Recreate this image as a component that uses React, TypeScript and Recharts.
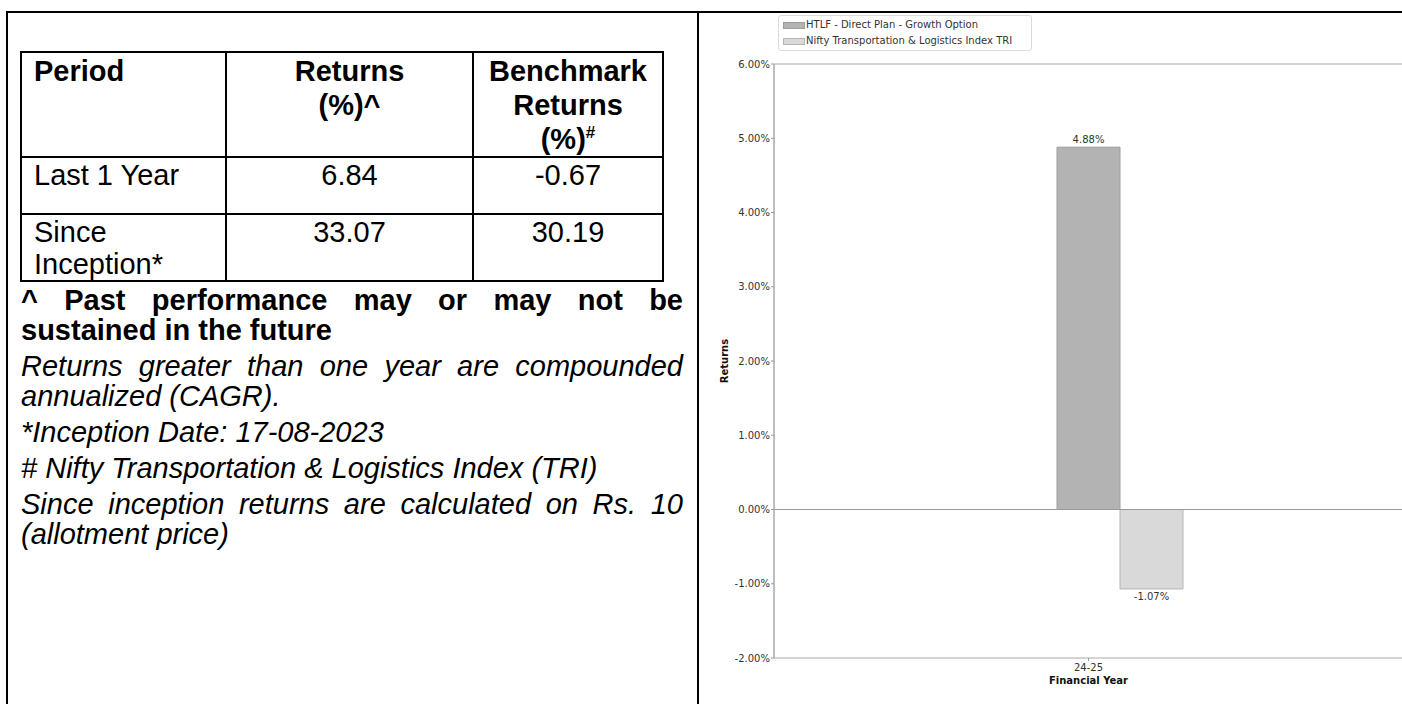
import { BarChart, Bar, XAxis, YAxis, Legend, ReferenceLine, LabelList } from 'recharts'

const years = ['24-25']
const fundReturns = [4.88]
const benchmarkReturns = [-1.07]
const seriesNames = ['HTLF - Direct Plan - Growth Option', 'Nifty Transportation & Logistics Index TRI']
const seriesColors = ['#b3b3b3', '#d9d9d9']
const seriesEdges = ['#9c9c9c', '#b4b4b4']
const yTicks = [-2, -1, 0, 1, 2, 3, 4, 5, 6]

const periods = ['Last 1 Year', 'Since Inception*']
const schemeReturns = ['6.84', '33.07']
const benchReturns = ['-0.67', '30.19']

const BAR = 63
const chartFont = 'DejaVu Sans, sans-serif'
const docFont = '"Liberation Sans", Arial, sans-serif'

const data = years.map((y, i) => ({ year: y, fund: fundReturns[i], bench: benchmarkReturns[i] }))
const pct = (v: any) => `${Number(v).toFixed(2)}%`

function YearTick({ x, y, payload }: any) {
  // matplotlib puts the tick under the first bar of the group
  const cx = x - BAR / 2
  return (
    <g>
      <line x1={cx} x2={cx} y1={y} y2={y + 3} stroke="#999" />
      <text x={cx} y={y + 13} textAnchor="middle" fontSize={10} fill="#333" fontFamily={chartFont}>
        {payload.value}
      </text>
    </g>
  )
}

function LegendBox() {
  return (
    <div style={{
      border: '1px solid #dadada', borderRadius: 3, padding: '1px 4px', background: '#fff',
      fontFamily: chartFont, fontSize: 10, color: '#333', lineHeight: '16px', boxSizing: 'border-box',
    }}>
      {seriesNames.map((n, i) => (
        <div key={n} style={{ display: 'flex', alignItems: 'center', whiteSpace: 'nowrap' }}>
          <span style={{ display: 'inline-block', width: 22, height: 7, background: seriesColors[i], boxShadow: `inset 0 0 0 1px ${seriesEdges[i]}`, marginRight: 1 }} />
          {n}
        </div>
      ))}
    </div>
  )
}

function ReturnsTable() {
  const border = '2px solid #000'
  const cell = { border, verticalAlign: 'top' as const, padding: '1px 12px 0', lineHeight: '34px' }
  return (
    <table style={{ position: 'absolute', left: 20, top: 51, width: 642, borderCollapse: 'collapse', tableLayout: 'fixed', fontFamily: docFont, fontSize: 29 }}>
      <colgroup>
        <col style={{ width: 205 }} />
        <col style={{ width: 247 }} />
        <col style={{ width: 190 }} />
      </colgroup>
      <tbody>
        <tr style={{ height: 103, fontWeight: 'bold' }}>
          <td style={cell}>Period</td>
          <td style={{ ...cell, textAlign: 'center' }}>Returns<br />(%)^</td>
          <td style={{ ...cell, textAlign: 'center', padding: '1px 4px 0' }}>Benchmark<br />Returns<br />(%)<sup style={{ fontSize: 17, lineHeight: 0 }}>#</sup></td>
        </tr>
        {periods.map((p, i) => (
          <tr key={p} style={{ height: i === 0 ? 57 : 67 }}>
            <td style={{ ...cell, lineHeight: '32px' }}>{p}</td>
            <td style={{ ...cell, lineHeight: '32px', textAlign: 'center' }}>{schemeReturns[i]}</td>
            <td style={{ ...cell, lineHeight: '32px', textAlign: 'center' }}>{benchReturns[i]}</td>
          </tr>
        ))}
      </tbody>
    </table>
  )
}

function Notes() {
  const p = { margin: '0 0 6px', textAlign: 'justify' as const }
  return (
    <div style={{ position: 'absolute', left: 21, top: 285, width: 662, fontFamily: docFont, fontSize: 29, lineHeight: '30px', color: '#000' }}>
      <p style={{ ...p, fontWeight: 'bold' }}>^ Past performance may or may not be sustained in the future</p>
      <p style={{ ...p, fontStyle: 'italic' }}>Returns greater than one year are compounded annualized (CAGR).</p>
      <p style={{ ...p, fontStyle: 'italic' }}>*Inception Date: 17-08-2023</p>
      <p style={{ ...p, fontStyle: 'italic' }}># Nifty Transportation &amp; Logistics Index (TRI)</p>
      <p style={{ ...p, fontStyle: 'italic' }}>Since inception returns are calculated on Rs. 10 (allotment price)</p>
    </div>
  )
}

export default function App() {
  return (
    <div style={{ position: 'fixed', left: 0, top: 0, width: 1402, height: 704, overflow: 'hidden', background: '#fff' }}>
      <ReturnsTable />
      <Notes />

      <div style={{ position: 'absolute', left: 699, top: 0 }}>
        <BarChart width={767} height={704} data={data} barGap={0} barSize={BAR}
          margin={{ top: 64, right: 0, bottom: 0, left: 0 }}>
          <XAxis dataKey="year" height={46} axisLine={{ stroke: '#aaa' }} tickLine={false} tickSize={0} tickMargin={0} tick={<YearTick />}
            label={{ value: 'Financial Year', position: 'center', dx: -BAR / 2, dy: -1, fontSize: 10, fontWeight: 'bold', fill: '#111', fontFamily: chartFont }} />
          <YAxis domain={[-2, 6]} ticks={yTicks} width={75} tickFormatter={pct} interval={0}
            axisLine={{ stroke: '#aaa', strokeWidth: 1.5 }} tickLine={{ stroke: '#999' }} tickSize={3} tickMargin={1}
            tick={{ fontSize: 10, fill: '#333', fontFamily: chartFont }}
            label={{ value: 'Returns', angle: -90, position: 'center', dx: -12, fontSize: 10, fontWeight: 'bold', fill: '#111', fontFamily: chartFont }} />
          <ReferenceLine y={6} stroke="#aaa" />
          <ReferenceLine y={0} stroke="#999" />
          <Legend layout="horizontal" verticalAlign="middle" align="center" content={<LegendBox />}
            wrapperStyle={{ top: 15, left: 79, width: 254, height: 35 }} />
          <Bar dataKey="fund" name={seriesNames[0]} fill={seriesColors[0]} stroke={seriesEdges[0]} isAnimationActive={false}>
            <LabelList dataKey="fund" position="top" offset={4} formatter={pct} fontSize={10} fill="#333" fontFamily={chartFont} />
          </Bar>
          <Bar dataKey="bench" name={seriesNames[1]} fill={seriesColors[1]} stroke={seriesEdges[1]} isAnimationActive={false}>
            <LabelList dataKey="bench" position="top" offset={4} formatter={pct} fontSize={10} fill="#333" fontFamily={chartFont} />
          </Bar>
        </BarChart>
      </div>

      <div style={{ position: 'absolute', left: 6, top: 11, width: 1396, height: 2, background: '#000' }} />
      <div style={{ position: 'absolute', left: 6, top: 11, width: 2, height: 693, background: '#000' }} />
      <div style={{ position: 'absolute', left: 697, top: 11, width: 2, height: 693, background: '#000' }} />
    </div>
  )
}
